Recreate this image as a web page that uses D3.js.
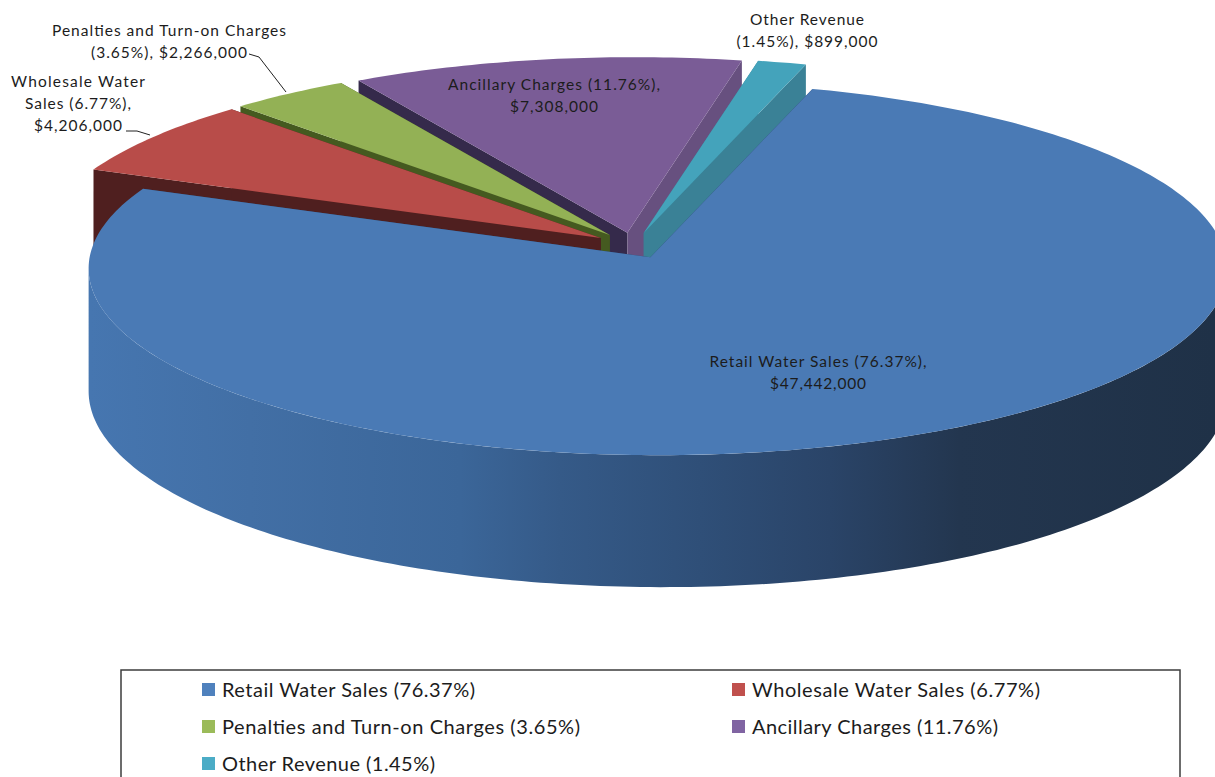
<!DOCTYPE html>
<html>
<head>
<meta charset="utf-8">
<title>Revenue pie</title>
<script src="https://cdn.jsdelivr.net/npm/d3@7"></script>
<style>
  html, body { margin: 0; padding: 0; background: #fff; overflow: hidden; }
  text { font-family: Lato, "Open Sans", sans-serif; fill: #1c1c1c; }
</style>
</head>
<body>
<svg id="drawing_region"></svg>
<script>
const categories = ["Retail Water Sales", "Wholesale Water Sales", "Penalties and Turn-on Charges", "Ancillary Charges", "Other Revenue"];
const amounts = [47442000, 4206000, 2266000, 7308000, 899000];
const percents = ["76.37%", "6.77%", "3.65%", "11.76%", "1.45%"];

const topColors = ["#4a7ab5", "#b84c49", "#93b155", "#7a5c96", "#44a3bb"];
const legendColors = ["#4f81bd", "#c0504d", "#9bbb59", "#8064a2", "#4bacc6"];
const startWallColors = ["#2a4468", "#4f1f1f", "#455a20", "#352a4b", "#3a8196"];
const endWallColors = ["#2a4468", "#4f1f1f", "#455a20", "#67507f", "#3a8196"];
const wallStops = [
  [90, "#4676b0"], [250, "#426fa5"], [460, "#3b6699"], [560, "#355a88"],
  [700, "#2f4f78"], [830, "#2a4468"], [960, "#23364f"], [1215, "#1f3147"]
];

const width = 1215, height = 777;
const center = {x: 633.5, y: 245.5};
const rx = 568, ry = 186, depth = 124;
const explode = 0.07;
const tiltV = 0.06, tiltU = -0.013;   // fake perspective
const rad = d3.scaleLinear().domain([0, 360]).range([0, 2 * Math.PI]);

const svg = d3.select("#drawing_region").attr("width", width).attr("height", height);

const grad = svg.append("defs").append("linearGradient")
  .attr("id", "wall")
  .attr("gradientUnits", "userSpaceOnUse")
  .attr("x1", 0).attr("x2", width).attr("y1", 0).attr("y2", 0);
grad.selectAll("stop").data(wallStops).join("stop")
  .attr("offset", d => d[0] / width)
  .attr("stop-color", d => d[1]);

const pie = d3.pie().sort(null)
  .startAngle(rad(17.5)).endAngle(rad(17.5 + 360));
const slices = pie(amounts).map((d, i) => {
  const mid = (d.startAngle + d.endAngle) / 2;
  return {
    i,
    a0: d.startAngle,
    a1: d.endAngle,
    ox: center.x + rx * explode * Math.sin(mid),
    oy: center.y - ry * explode * Math.cos(mid)
  };
});

// unit disk point -> screen, z is 0 on top face and 1 on the bottom
function project(s, r, a, z) {
  const u = r * Math.sin(a), v = r * Math.cos(a);
  const w = 1 + tiltV * v + tiltU * u;
  return [s.ox + rx * u / w, s.oy + (-ry * v + depth * z) / w];
}
function arcPoints(s, z, from, to) {
  const n = Math.max(2, Math.ceil(Math.abs(to - from) * 60));
  return d3.range(n + 1).map(k => project(s, 1, from + (to - from) * k / n, z));
}
const line = d3.line().curve(d3.curveLinear);
const closed = pts => line(pts) + "Z";

// back slices first, the other revenue slice lies over the ancillary wall
// and retail water sales sits in front of all of them
const order = [3, 4, 2, 1, 0];
const g = svg.append("g");
order.forEach(i => {
  const s = slices[i];
  const group = g.append("g");
  const apexTop = project(s, 0, 0, 0), apexBot = project(s, 0, 0, 1);

  // radial walls
  group.append("path")
    .attr("d", closed([apexTop, project(s, 1, s.a0, 0), project(s, 1, s.a0, 1), apexBot]))
    .attr("fill", startWallColors[i]);
  group.append("path")
    .attr("d", closed([apexTop, project(s, 1, s.a1, 0), project(s, 1, s.a1, 1), apexBot]))
    .attr("fill", endWallColors[i]);

  // outer wall, only the part that faces the viewer
  const from = Math.max(s.a0, rad(93.5)), to = Math.min(s.a1, rad(266.5));
  if (from < to) {
    group.append("path")
      .attr("d", closed(arcPoints(s, 0, from, to).concat(arcPoints(s, 1, to, from))))
      .attr("fill", i === 0 ? "url(#wall)" : startWallColors[i]);
  }

  // top face
  group.append("path")
    .attr("d", closed([apexTop].concat(arcPoints(s, 0, s.a0, s.a1))))
    .attr("fill", topColors[i]);
});

// leader lines
const leaders = [
  [[249, 54], [259, 57], [286, 92]],
  [[126, 131], [137, 131], [150, 135]]
];
svg.selectAll("path.leader").data(leaders).join("path")
  .attr("class", "leader")
  .attr("d", line)
  .attr("fill", "none")
  .attr("stroke", "#222")
  .attr("stroke-width", 1);

// data labels
const money = d3.format("$,");
const labelRows = [
  {x: 818, y: 362, w: [217, 96], t: [`${categories[0]} (${percents[0]}),`, money(amounts[0])]},
  {x: 78, y: 82, w: [134, 106, 88], t: ["Wholesale Water", `Sales (${percents[1]}),`, money(amounts[1])]},
  {x: 169, y: 31, w: [234, 156], t: [categories[2], `(${percents[2]}), ${money(amounts[2])}`]},
  {x: 554, y: 85, w: [212, 88], t: [`${categories[3]} (${percents[3]}),`, money(amounts[3])]},
  {x: 807, y: 20, w: [114, 141], t: [categories[4], `(${percents[4]}), ${money(amounts[4])}`]}
];
labelRows.forEach(l => {
  l.t.forEach((str, k) => {
    svg.append("text")
      .attr("x", l.x).attr("y", l.y + k * 22)
      .attr("dy", "0.35em")
      .attr("text-anchor", "middle")
      .attr("font-size", 15.5)
      .attr("textLength", l.w[k])
      .attr("lengthAdjust", "spacing")
      .text(str);
  });
});

// legend
svg.append("rect")
  .attr("x", 121).attr("y", 670)
  .attr("width", 1059).attr("height", 130)
  .attr("fill", "none").attr("stroke", "#3c3c3c").attr("stroke-width", 1.5);

const legendCols = [202, 732], legendRowsY = [690, 727, 764];
const legendWidths = [253, 288, 358, 246, 213];
const legend = svg.selectAll("g.legend").data(categories).join("g")
  .attr("class", "legend")
  .attr("transform", (d, i) => `translate(${legendCols[i % 2]},${legendRowsY[Math.floor(i / 2)]})`);
legend.append("rect")
  .attr("x", 0).attr("y", -7).attr("width", 13).attr("height", 13)
  .attr("fill", (d, i) => legendColors[i]);
legend.append("text")
  .attr("x", 20).attr("y", 0).attr("dy", "0.35em")
  .attr("font-size", 20)
  .attr("textLength", (d, i) => legendWidths[i])
  .attr("lengthAdjust", "spacing")
  .text((d, i) => `${d} (${percents[i]})`);
</script>
</body>
</html>
